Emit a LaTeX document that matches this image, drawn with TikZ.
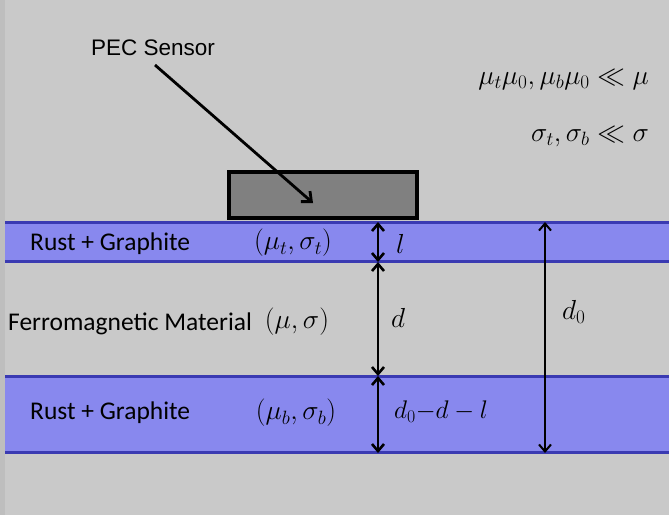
\RequirePackage{fix-cm}
\documentclass[tikz,border=0pt]{standalone}
\usepackage{fontspec}
\setmainfont{Carlito}
\newfontfamily\arialfont{Liberation Sans}
\usetikzlibrary{arrows.meta}
\definecolor{bgray}{HTML}{C9C9C9}
\definecolor{bandfill}{HTML}{8888EE}
\definecolor{bandline}{HTML}{3A3AB2}
\definecolor{sensorfill}{HTML}{808080}
\tikzset{
  band/.style={fill=bandfill, draw=none},
  bandedge/.style={draw=bandline, line width=3pt},
  lbl/.style={font=\fontsize{25.5}{28}\selectfont, inner sep=0pt},
  mlbl/.style={font=\fontsize{27.5}{30}\selectfont, inner sep=0pt},
  dim/.style={line width=2.6pt, {Straight Barb[length=7pt,width=12pt]}-{Straight Barb[length=7pt,width=12pt]}},
}
\begin{document}
\begin{tikzpicture}[x=1pt,y=-1pt]
\useasboundingbox (0,0) rectangle (669,515);
\fill[bgray] (0,0) rectangle (669,515);
\fill[gray!15!bgray] (0,0) rectangle (5,515);
% bands
\fill[band] (5,222) rectangle (669,262);
\draw[bandedge] (5,222.5) -- (669,222.5);
\draw[bandedge] (5,261.5) -- (669,261.5);
\fill[band] (5,376) rectangle (669,453);
\draw[bandedge] (5,376.5) -- (669,376.5);
\draw[bandedge] (5,452.5) -- (669,452.5);
% sensor
\node[draw=black, line width=4pt, fill=sensorfill, minimum width=188pt, minimum height=46pt, inner sep=0pt] (sensor) at (323,195) {};
\coordinate (tip) at (313,203);
\node[font=\arialfont\fontsize{22.5}{26}\selectfont, inner sep=0pt] (pec) at (153,48) {PEC Sensor};
\coordinate (pecs) at (155,65);
\draw[line width=2.8pt, -{Straight Barb[length=8pt,width=14pt]}] (pecs) -- (tip);
% dimension coordinates
\coordinate (a1) at (378,222);
\coordinate (a2) at (378,262);
\coordinate (a3) at (378,376);
\coordinate (a4) at (378,453);
\coordinate (b1) at (545,222);
\coordinate (b4) at (545,453);
\draw[dim] (a1) -- (a2);
\draw[dim] (a2) -- (a3);
\draw[dim] (a3) -- (a4);
\draw[dim, line width=2pt] (b1) -- (b4);
% labels
\node[lbl, anchor=west] (rg1) at (30,244) {Rust + Graphite};
\node[mlbl] (mt) at (293,243) {$(\mu_t,\sigma_t)$};
\node[mlbl, anchor=west] (l1) at (396,244) {$l$};
\node[lbl, anchor=west] (fm) at (8,324) {Ferromagnetic Material};
\node[mlbl] (mm) at (297,322) {$(\mu,\sigma)$};
\node[mlbl, anchor=west] (dd) at (391,318) {$d$};
\node[mlbl, anchor=west] (d0) at (562,312) {$d_0$};
\node[lbl, anchor=west] (rg2) at (30,413) {Rust + Graphite};
\node[mlbl] (mb) at (296,413) {$(\mu_b,\sigma_b)$};
\node[font=\fontsize{25.5}{28}\selectfont, inner sep=0pt, anchor=west] (dl) at (394,412) {$d_0 {-} d - l$};
\node[font=\fontsize{27.5}{30}\selectfont, inner sep=0pt, anchor=east] (c1) at (649,80) {$\mu_t\mu_0, \mu_b\mu_0 \ll \mu$};
\node[font=\fontsize{27.5}{30}\selectfont, inner sep=0pt, anchor=east] (c2) at (649,137) {$\sigma_t, \sigma_b \ll \sigma$};
\end{tikzpicture}
\end{document}
